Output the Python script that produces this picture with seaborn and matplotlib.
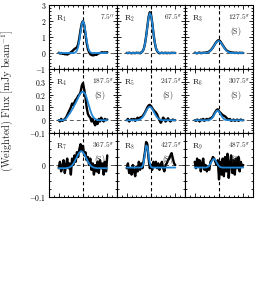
import numpy as np
import pandas as pd
import matplotlib
matplotlib.use("Agg")
import matplotlib.pyplot as plt
from matplotlib.ticker import MultipleLocator, FixedLocator, FixedFormatter
import seaborn as sns

# ---------------- data ----------------
regions = ["R$_1$", "R$_2$", "R$_3$", "R$_4$", "R$_5$", "R$_6$", "R$_7$", "R$_8$", "R$_9$"]
offsets = ["7.5''", "67.5''", "127.5''", "187.5''", "247.5''", "307.5''", "367.5''", "427.5''", "487.5''"]
single = [False, False, True, True, True, True, True, True, True]

velocity = list(range(-500, 501, 25))  # 41 channels

obs_R1 = [0.02, -0.03, 0.0, -0.05, -0.04, -0.08, -0.06, -0.1, -0.05, -0.02, 0.05, 0.1, 0.18, 0.25, 0.3, 0.35, 0.55, 0.95, 1.45, 1.85, 2.0,
          1.75, 1.2, 0.65, 0.25, 0.05, -0.08, -0.12, -0.15, -0.14, -0.1, -0.12, -0.06, -0.02, 0.0, 0.03, 0.05, 0.02, 0.04, 0.03, 0.05]
fit_R1 = [0, 0, 0, 0, 0, 0, 0, 0, 0, 0, 0, 0, 0.0, 0.01, 0.05, 0.15, 0.38, 0.79, 1.32, 1.80, 2.0,
          1.80, 1.32, 0.79, 0.38, 0.15, 0.05, 0.01, 0.0, 0, 0, 0, 0, 0, 0, 0, 0, 0, 0, 0, 0]

obs_R2 = [0.01, -0.01, 0.02, 0.0, -0.02, 0.01, 0.0, -0.01, 0.02, 0.0, 0.01, -0.02, 0.04, 0.1, 0.25, 0.56, 1.05, 1.66, 2.25, 2.55, 2.4,
          1.9, 1.25, 0.7, 0.32, 0.12, 0.03, -0.02, 0.0, 0.02, -0.01, 0.0, 0.02, -0.02, 0.01, 0.0, -0.01, 0.02, 0.0, 0.01, 0.0]
fit_R2 = [0, 0, 0, 0, 0, 0, 0, 0, 0, 0, 0, 0, 0.03, 0.09, 0.24, 0.54, 1.03, 1.64, 2.21, 2.49, 2.36,
          1.89, 1.27, 0.71, 0.34, 0.13, 0.05, 0.01, 0, 0, 0, 0, 0, 0, 0, 0, 0, 0, 0, 0, 0]

obs_R3 = [0.02, 0.0, -0.02, 0.01, 0.03, -0.01, 0.0, 0.02, 0.01, 0.03, 0.04, 0.06, 0.1, 0.16, 0.24, 0.35, 0.47, 0.6, 0.7, 0.78, 0.8,
          0.74, 0.62, 0.5, 0.38, 0.27, 0.18, 0.12, 0.08, 0.06, 0.04, 0.02, 0.03, 0.0, 0.02, 0.01, -0.01, 0.02, 0.0, 0.01, 0.0]
fit_R3 = [0, 0, 0, 0, 0, 0, 0, 0, 0.0, 0.01, 0.02, 0.04, 0.08, 0.14, 0.22, 0.33, 0.46, 0.58, 0.68, 0.74, 0.75,
          0.70, 0.60, 0.48, 0.36, 0.24, 0.15, 0.09, 0.05, 0.02, 0.01, 0.0, 0, 0, 0, 0, 0, 0, 0, 0, 0]

obs_R4 = [0.0, -0.01, 0.01, -0.005, 0.0, 0.01, 0.02, 0.04, 0.06, 0.08, 0.1, 0.13, 0.12, 0.14, 0.16, 0.17, 0.19, 0.2, 0.22, 0.27, 0.29,
          0.24, 0.18, 0.1, 0.05, 0.03, 0.02, -0.01, 0.01, -0.02, -0.04, 0.0, -0.03, 0.01, -0.01, 0.02, 0.0, -0.01, 0.01, 0.0, 0.005]
fit_R4 = [0, 0, 0, 0, 0, 0.005, 0.012, 0.025, 0.04, 0.052, 0.068, 0.083, 0.1, 0.118, 0.135, 0.155, 0.175, 0.195, 0.21, 0.22, 0.222,
          0.215, 0.2, 0.175, 0.14, 0.11, 0.078, 0.05, 0.03, 0.018, 0.01, 0.005, 0, 0, 0, 0, 0, 0, 0, 0, 0]

obs_R5 = [0.0, 0.01, -0.01, 0.0, 0.01, 0.0, 0.01, -0.005, 0.01, 0.02, 0.01, 0.02, 0.025, 0.03, 0.045, 0.06, 0.08, 0.1, 0.115, 0.12, 0.11,
          0.095, 0.08, 0.07, 0.06, 0.045, 0.02, 0.0, -0.02, -0.005, 0.02, 0.01, -0.01, 0.0, 0.015, 0.0, -0.01, 0.0, 0.005, 0.0, 0.0]
fit_R5 = [0, 0, 0, 0, 0, 0, 0, 0, 0, 0, 0.003, 0.007, 0.013, 0.022, 0.036, 0.053, 0.071, 0.088, 0.1, 0.105, 0.1,
          0.088, 0.071, 0.053, 0.036, 0.022, 0.013, 0.007, 0.003, 0, 0, 0, 0, 0, 0, 0, 0, 0, 0, 0, 0]

obs_R6 = [0.0, -0.005, 0.005, 0.0, -0.01, 0.005, 0.0, 0.01, -0.005, 0.005, 0.01, 0.0, 0.01, 0.015, 0.02, 0.03, 0.05, 0.065, 0.08, 0.085, 0.07,
          0.06, 0.05, 0.04, 0.035, 0.03, 0.02, 0.01, 0.005, 0.01, -0.005, 0.0, 0.005, -0.005, 0.0, 0.005, -0.005, 0.0, 0.005, 0.0, 0.0]
fit_R6 = [0, 0, 0, 0, 0, 0, 0, 0, 0, 0, 0, 0, 0.003, 0.006, 0.014, 0.026, 0.042, 0.059, 0.072, 0.075, 0.067,
          0.052, 0.035, 0.02, 0.01, 0.004, 0.0015, 0, 0, 0, 0, 0, 0, 0, 0, 0, 0, 0, 0, 0, 0]

obs_R7 = [-0.01, 0.01, -0.02, -0.005, 0.015, -0.025, 0.0, 0.02, -0.01, 0.005, -0.03, 0.02, 0.0, 0.03, 0.01, 0.04, 0.025, 0.05, 0.065, 0.045, 0.06,
          0.03, 0.04, 0.015, 0.025, 0.0, 0.02, -0.015, 0.005, -0.03, 0.0, -0.02, 0.01, -0.025, 0.015, -0.01, 0.005, -0.03, 0.01, -0.02, 0.03]
fit_R7 = [-0.01, -0.01, -0.01, -0.01, -0.01, -0.01, -0.0096, -0.0092, -0.0084, -0.007, -0.0048, -0.0013, 0.0036, 0.0099, 0.0174, 0.0254, 0.033, 0.039, 0.042, 0.043, 0.04,
          0.034, 0.027, 0.019, 0.0113, 0.0047, -0.0004, -0.004, -0.0066, -0.0082, -0.009, -0.0096, -0.01, -0.01, -0.01, -0.01, -0.01, -0.01, -0.01, -0.01, -0.01]

obs_R8 = [-0.01, 0.005, -0.025, -0.01, -0.03, 0.0, -0.02, -0.035, -0.005, -0.02, 0.01, -0.015, 0.005, -0.01, 0.015, 0.04, 0.072, 0.065, 0.02, -0.01, 0.0,
          -0.015, 0.01, -0.005, 0.01, -0.01, 0.005, -0.015, 0.0, 0.01, -0.01, -0.02, 0.0, 0.005, 0.015, 0.02, 0.03, 0.037, 0.02, 0.005, 0.0]
fit_R8 = [-0.008, -0.008, -0.008, -0.008, -0.008, -0.008, -0.008, -0.008, -0.008, -0.008, -0.008, -0.008, -0.0075, -0.0043, 0.0086, 0.0357, 0.061, 0.0577, 0.0296, 0.0048, -0.0053,
          -0.0077, -0.008, -0.008, -0.008, -0.008, -0.008, -0.008, -0.008, -0.008, -0.008, -0.008, -0.008, -0.008, -0.008, -0.008, -0.008, -0.008, -0.008, -0.008, -0.008]

obs_R9 = [0.01, -0.01, 0.02, -0.005, 0.015, -0.02, 0.005, 0.02, -0.015, 0.0, -0.02, -0.005, -0.015, 0.01, 0.015, 0.025, 0.02, 0.01, 0.0, 0.015, -0.045,
          0.01, -0.03, 0.02, -0.035, 0.025, -0.02, 0.035, -0.04, 0.005, 0.03, -0.025, 0.015, -0.03, 0.02, -0.01, 0.025, -0.02, 0.01, -0.005, 0.0]
fit_R9 = [-0.008, -0.008, -0.008, -0.008, -0.008, -0.008, -0.008, -0.008, -0.008, -0.0078, -0.0072, -0.0055, -0.0019, 0.004, 0.0113, 0.0173, 0.0189, 0.0153, 0.0084, 0.0014, -0.0036,
          -0.0063, -0.0075, -0.008, -0.008, -0.008, -0.008, -0.008, -0.008, -0.008, -0.008, -0.008, -0.008, -0.008, -0.008, -0.008, -0.008, -0.008, -0.008, -0.008, -0.008]

observed = [obs_R1, obs_R2, obs_R3, obs_R4, obs_R5, obs_R6, obs_R7, obs_R8, obs_R9]
fitted = [fit_R1, fit_R2, fit_R3, fit_R4, fit_R5, fit_R6, fit_R7, fit_R8, fit_R9]

row_ylims = [(-1, 3), (-0.1, 0.4), (-0.1, 0.1)]
row_major = [[-1, 0, 1, 2, 3], [-0.1, 0, 0.1, 0.2, 0.3, 0.4], [-0.1, 0, 0.1]]
row_labels = [["$-1$", "$0$", "$1$", "$2$", "$3$"],
              ["$-0.1$", "$0$", "$0.1$", "$0.2$", "$0.3$", ""],
              ["$-0.1$", "$0$", ""]]
row_minor = [0.2, 0.02, 0.025]

# ---------------- style ----------------
sns.set_style("ticks")
plt.rcParams["font.family"] = ["DejaVu Serif"]
plt.rcParams["mathtext.fontset"] = "cm"

BLUE = "#1f86d8"

fig = plt.figure(figsize=(2.63, 3.01), dpi=100)
gs = fig.add_gridspec(3, 3, left=49 / 263, right=253 / 263, top=1 - 5 / 301, bottom=1 - 197 / 301,
                      hspace=0, wspace=0)

for i in range(9):
    r, c = divmod(i, 3)
    ax = fig.add_subplot(gs[r, c])
    df = pd.DataFrame({"v": velocity, "obs": observed[i], "fit": fitted[i]})
    ax.axhline(0, color="0.35", lw=0.7, ls=(0, (4, 3)), zorder=1)
    ax.axvline(0, color="black", lw=0.8, ls=(0, (3, 2.5)), zorder=1)
    sns.lineplot(data=df, x="v", y="obs", ax=ax, color="black", lw=1.7, zorder=2)
    sns.lineplot(data=df, x="v", y="fit", ax=ax, color=BLUE, lw=1.3, zorder=3)
    ax.set_xlim(-700, 700)
    ax.set_ylim(*row_ylims[r])
    ax.set_xlabel("")
    ax.set_ylabel("")
    ax.xaxis.set_major_locator(FixedLocator([-500, 0, 500]))
    ax.xaxis.set_minor_locator(MultipleLocator(100))
    ax.set_xticklabels([])
    ax.yaxis.set_major_locator(FixedLocator(row_major[r]))
    ax.yaxis.set_minor_locator(MultipleLocator(row_minor[r]))
    if c == 0:
        ax.yaxis.set_major_formatter(FixedFormatter(row_labels[r]))
    else:
        ax.set_yticklabels([])
    ax.tick_params(which="both", direction="in", top=True, right=True, width=0.6, labelsize=5.5, pad=2,
                   colors="black", labelcolor="black")
    ax.tick_params(which="major", length=3)
    ax.tick_params(which="minor", length=1.6)
    for s in ax.spines.values():
        s.set_linewidth(0.8)
        s.set_color("black")
    ax.text(0.10, 0.79, regions[i], transform=ax.transAxes, fontsize=5.5, ha="left", va="center")
    ax.text(0.96, 0.79, "$" + offsets[i] + "$", transform=ax.transAxes, fontsize=5.3, ha="right", va="center")
    if single[i]:
        ax.text(0.75, 0.58, "$\\mathrm{(S)}$", transform=ax.transAxes, fontsize=5.5, ha="center", va="center")

fig.text(7 / 263, 1 - 101 / 301, r"$\mathrm{(Weighted)\ Flux\ [mJy\ beam^{-1}]}$", rotation=90,
         ha="center", va="center", fontsize=7.5)

fig.savefig("out.png", dpi=100)
